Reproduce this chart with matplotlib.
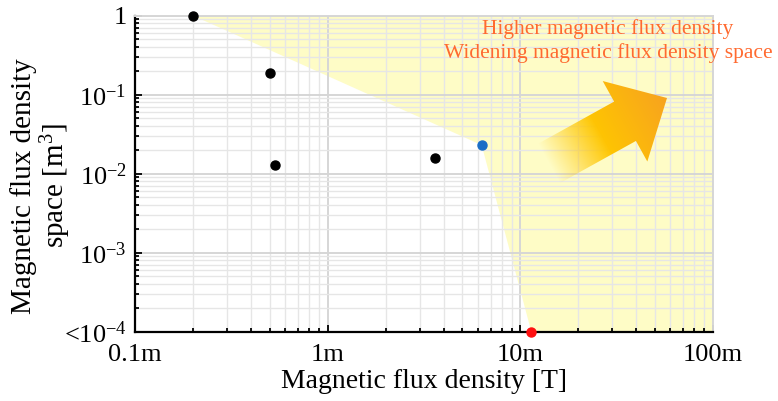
import matplotlib
matplotlib.use("Agg")
import matplotlib.pyplot as plt
import numpy as np
from matplotlib.patches import FancyArrow
from matplotlib.ticker import LogLocator, NullFormatter, FixedLocator

plt.rcParams['font.family'] = ['Liberation Serif', 'DejaVu Serif']
plt.rcParams['mathtext.fontset'] = 'custom'
plt.rcParams['mathtext.rm'] = 'Liberation Serif'
plt.rcParams['mathtext.it'] = 'Liberation Serif:italic'

# data (magnetic flux density in T, space in m^3)
black_B = [0.2e-3, 0.5e-3, 0.53e-3, 3.6e-3]
black_V = [1.0, 0.19, 0.0128, 0.0158]
blue_B = [6.3e-3]
blue_V = [0.023]
red_B = [11.4e-3]
red_V = [1e-4]

# frontier of the shaded region
region_B = [0.2e-3, 6.3e-3, 11.4e-3, 100e-3, 100e-3]
region_V = [1.0, 0.023, 1e-4, 1e-4, 1.0]

xticks = [1e-4, 1e-3, 1e-2, 1e-1]
xticklabels = ['0.1m', '1m', '10m', '100m']
yticks = [1e-4, 1e-3, 1e-2, 1e-1, 1]
yticklabels = ['<10$^{-4}$', '10$^{-3}$', '10$^{-2}$', '10$^{-1}$', '1']

fig = plt.figure(figsize=(7.78, 4.01), dpi=100)
ax = fig.add_axes([0.1735, 0.1728, 0.7430, 0.7882])

ax.set_xscale('log')
ax.set_yscale('log')
ax.set_xlim(1e-4, 1e-1)
ax.set_ylim(1e-4, 1)

ax.fill(region_B, region_V, color='#fefcc6', zorder=0.3, lw=0)

ax.set_axisbelow(True)
ax.grid(which='major', color='#d6d6d6', lw=1.4)
ax.grid(which='minor', color='#e6e6e6', lw=1.0)

ax.plot(black_B, black_V, 'o', color='black', ms=6.5, zorder=5, clip_on=False)
ax.plot(blue_B, blue_V, 'o', color='#1a6ec6', ms=6.5, zorder=5, clip_on=False)
ax.plot(red_B, red_V, 'o', color='#ff1010', ms=6.5, zorder=6, clip_on=False)

ax.xaxis.set_major_locator(FixedLocator(xticks))
ax.set_xticklabels(xticklabels)
ax.yaxis.set_major_locator(FixedLocator(yticks))
ax.set_yticklabels(yticklabels)
ax.xaxis.set_minor_locator(LogLocator(base=10, subs=np.arange(2, 10)))
ax.yaxis.set_minor_locator(LogLocator(base=10, subs=np.arange(2, 10)))
ax.xaxis.set_minor_formatter(NullFormatter())
ax.yaxis.set_minor_formatter(NullFormatter())

ax.tick_params(which='both', direction='in', top=False, right=False,
               labelsize=19, color='black', width=1.3)
ax.tick_params(which='major', length=5, pad=6)
ax.tick_params(axis='x', which='major', pad=9)
ax.tick_params(which='minor', length=3)

for s in ['left', 'bottom']:
    ax.spines[s].set_linewidth(1.6)
    ax.spines[s].set_color('black')
for s in ['top', 'right']:
    ax.spines[s].set_color('#d6d6d6')
    ax.spines[s].set_linewidth(1.4)

ax.set_xlabel('Magnetic flux density [T]', fontsize=20, labelpad=2)
ax.set_ylabel('Magnetic flux density\nspace [m$^3$]', fontsize=21,
              linespacing=1.05)
ax.yaxis.set_label_coords(-0.107, 0.462)

ax.text(0.818, 0.92, 'Higher magnetic flux density\nWidening magnetic flux density space',
        transform=ax.transAxes, ha='center', va='center', fontsize=15.5,
        color='#ff6a30', linespacing=1.25, clip_on=False, zorder=7)

# gradient arrow on a pixel-unit overlay
ov = fig.add_axes([0, 0, 1, 1], zorder=10)
ov.set_xlim(0, 778)
ov.set_ylim(401, 0)
ov.axis('off')

tip = np.array([667.0, 98.0])
ang = np.deg2rad(-29)
d = np.array([np.cos(ang), np.sin(ang)])
total = 150.0
tail = tip - d * total
arrow = FancyArrow(tail[0], tail[1], d[0] * total, d[1] * total, width=45,
                   head_width=92, head_length=48, length_includes_head=True,
                   lw=0, color='none')
ov.add_patch(arrow)

gx, gy = np.meshgrid(np.linspace(500, 700, 300), np.linspace(50, 220, 260))
t = ((gx - tail[0]) * d[0] + (gy - tail[1]) * d[1]) / total
t = np.clip(t, 0, 1)
c0 = np.array([1.0, 0.78, 0.0])
c1 = np.array([0.97, 0.64, 0.12])
rgba = np.zeros(gx.shape + (4,))
w = np.clip((t - 0.45) / 0.55, 0, 1)[..., None]
rgba[..., :3] = c0 * (1 - w) + c1 * w
rgba[..., 3] = np.clip((t - 0.1) / 0.4, 0, 1)
im = ov.imshow(rgba, extent=(500, 700, 220, 50), origin='upper',
               interpolation='bilinear', aspect='auto')
im.set_clip_path(arrow)
ov.set_xlim(0, 778)
ov.set_ylim(401, 0)

fig.savefig('out.png', dpi=100)
